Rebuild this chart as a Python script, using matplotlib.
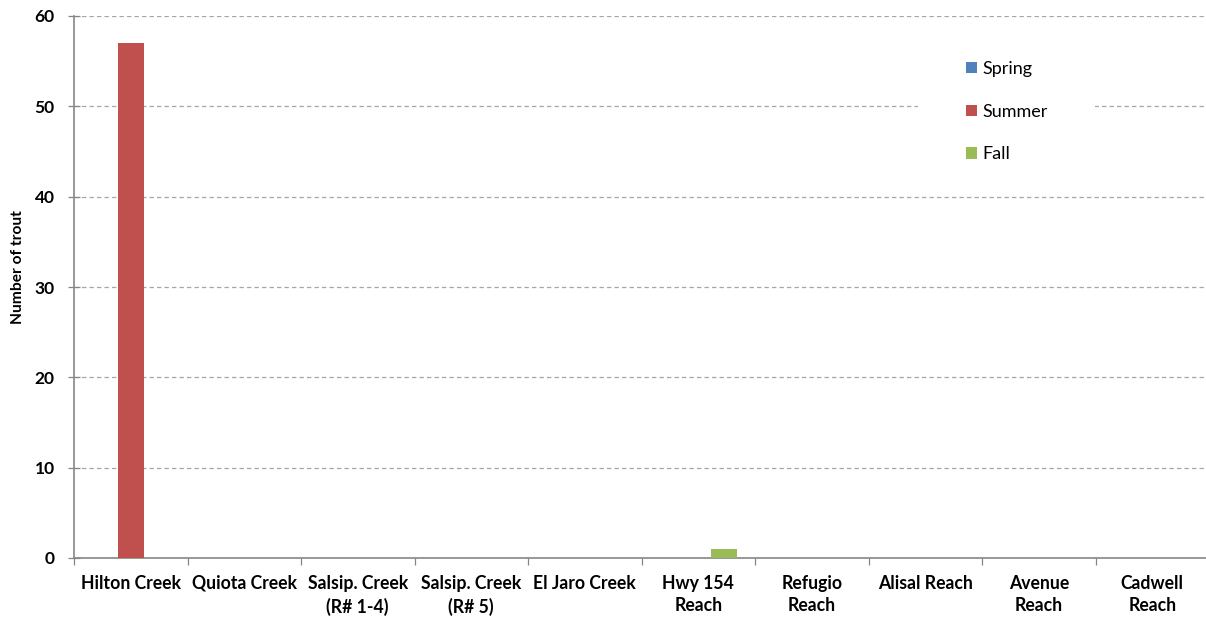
import matplotlib
matplotlib.use("Agg")
import matplotlib.pyplot as plt
from matplotlib.patches import Rectangle
from matplotlib.ticker import FixedLocator, MultipleLocator
import numpy as np

plt.rcParams['font.family'] = ['Lato', 'DejaVu Sans']

categories = ["Hilton Creek", "Quiota Creek", "Salsip. Creek\n(R# 1-4)", "Salsip. Creek\n(R# 5)",
              "El Jaro Creek", "Hwy 154\nReach", "Refugio\nReach", "Alisal Reach",
              "Avenue\nReach", "Cadwell\nReach"]
spring = [0, 0, 0, 0, 0, 0, 0, 0, 0, 0]
summer = [57, 0, 0, 0, 0, 0, 0, 0, 0, 0]
fall = [0, 0, 0, 0, 0, 1, 0, 0, 0, 0]

series = [("Spring", spring, "#4F81BD"), ("Summer", summer, "#C0504D"), ("Fall", fall, "#9BBB59")]

W, H = 1206, 622
fig = plt.figure(figsize=(W / 100, H / 100), dpi=100)
ax = fig.add_axes([74 / W, 64 / H, 1135 / W, 542 / H])

x = np.arange(len(categories))
w = 0.229
for i, (name, vals, col) in enumerate(series):
    ax.bar(x + (i - 1) * w, vals, width=w, color=col, label=name, zorder=3)

ax.set_xlim(-0.5, len(categories) - 0.5)
ax.set_ylim(0, 60)
ax.yaxis.set_major_locator(MultipleLocator(10))
ax.yaxis.grid(True, color="#a6a6a6", linestyle=(0, (3.5, 2.5)), linewidth=0.9, zorder=0)
ax.set_axisbelow(True)

ax.set_xticks(x)
ax.set_xticklabels(categories, fontsize=12.7, fontweight="bold", linespacing=1.4)
ax.xaxis.set_minor_locator(FixedLocator(np.arange(-0.5, len(categories) - 1, 1.0)))
ax.tick_params(axis="x", which="major", length=0, pad=12)
ax.tick_params(axis="x", which="minor", length=5, width=0.9, color="#868686", direction="out")
ax.tick_params(axis="y", length=8, width=0.9, color="#868686", direction="inout",
               labelsize=12.5, pad=10)
for lab in ax.get_yticklabels():
    lab.set_fontweight("bold")

for side in ("top", "right"):
    ax.spines[side].set_visible(False)
for side in ("left", "bottom"):
    ax.spines[side].set_color("#868686")
    ax.spines[side].set_linewidth(1.2)

ax.set_ylabel("Number of trout", fontsize=11.2, fontweight="bold")
ax.yaxis.set_label_coords(-49 / 1135, (558 - 267) / 542)

# white backing behind the legend, over the gridlines
ax.add_patch(Rectangle((918 / W, 1 - 175 / H), 177 / W, 130 / H, transform=fig.transFigure,
                       facecolor="white", edgecolor="none", zorder=2, clip_on=False))

leg = ax.legend(loc="upper left", bbox_to_anchor=(966 / W, 1 - 61 / H),
                bbox_transform=fig.transFigure, frameon=False,
                fontsize=13, handlelength=0.62, handleheight=0.62, handletextpad=0.3,
                labelspacing=1.48, borderpad=0, borderaxespad=0)
leg.set_zorder(5)

fig.savefig("out.png", dpi=100)
